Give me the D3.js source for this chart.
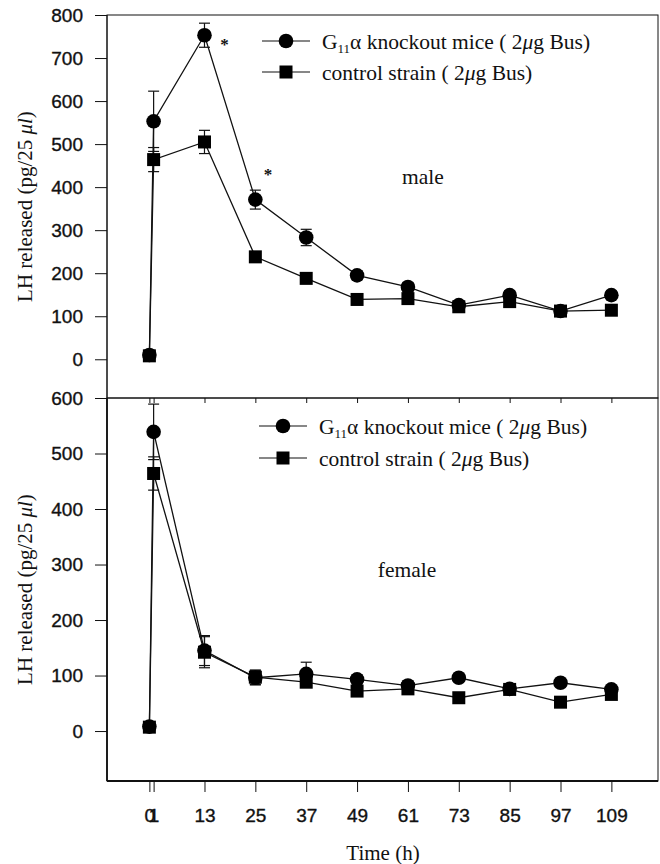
<!DOCTYPE html>
<html>
<head>
<meta charset="utf-8">
<script src="https://cdn.jsdelivr.net/npm/d3@7"></script>
<style>
  html, body { margin: 0; padding: 0; background: #fff; }
  svg { display: block; }
  .tick text { font-family: "Liberation Sans", Arial, sans-serif; font-size: 19px; fill: #111; stroke: #111; stroke-width: 0.35px; }
  text.serif { font-family: "Liberation Serif", "Times New Roman", serif; fill: #111; }
</style>
</head>
<body>
<svg id="chart" width="660" height="864"></svg>
<script>
// Sampling times (h); 0 and 1 are the pre-stimulus and first post-stimulus samples
const times = [0, 1, 13, 25, 37, 49, 61, 73, 85, 97, 109];
const xTickLabels = ["0", "1", "13", "25", "37", "49", "61", "73", "85", "97", "109"];

// Male: LH released (pg/25 µl), mean and SEM
const maleKO     = [10, 553, 753, 371, 283, 195, 168, 126, 149, 112, 149];
const maleKOErr  = [4, 70, 28, 22, 19, 10, 10, 6, 10, 6, 8];
const maleCtl    = [8, 464, 505, 238, 188, 139, 141, 122, 134, 112, 114];
const maleCtlErr = [4, 28, 27, 10, 8, 8, 8, 6, 12, 6, 6];

// Female: LH released (pg/25 µl), mean and SEM
const femaleKO     = [8, 539, 145, 96, 103, 93, 82, 96, 76, 87, 75];
const femaleKOErr  = [4, 50, 27, 13, 21, 8, 8, 6, 8, 6, 6];
const femaleCtl    = [7, 464, 142, 97, 88, 72, 76, 60, 75, 52, 66];
const femaleCtlErr = [4, 30, 28, 13, 8, 6, 8, 6, 8, 6, 6];

// Significance marks (male panel), placed in data space
const maleStars = [{t: 17.7, v: 737}, {t: 28, v: 435}];

const maleYTicks = [0, 100, 200, 300, 400, 500, 600, 700, 800];
const femaleYTicks = [0, 100, 200, 300, 400, 500, 600];

const SERIF = "'Liberation Serif', 'Times New Roman', Times, serif";

const svg = d3.select("#chart");
const X0 = 107, X1 = 658;
const x = d3.scaleLinear().domain([-10, 120]).range([X0, X1]);

const panels = [
  { top: 15, bottom: 398, domain: [-90, 800], ticks: maleYTicks,
    ko: maleKO, koErr: maleKOErr, ctl: maleCtl, ctlErr: maleCtlErr,
    label: "male", labelPos: [423, 184], legendY: [41, 72], legendX: 286,
    stars: maleStars, frameW: 1, showXLabels: false },
  { top: 398, bottom: 781, domain: [-90, 600], ticks: femaleYTicks,
    ko: femaleKO, koErr: femaleKOErr, ctl: femaleCtl, ctlErr: femaleCtlErr,
    label: "female", labelPos: [407, 577], legendY: [426, 458], legendX: 283,
    stars: [], frameW: 1.8, showXLabels: true }
];

function seriesData(vals, errs) {
  return times.map((t, i) => ({ t, v: vals[i], e: errs[i] }));
}

function serifText(sel) {
  return sel.append("text").attr("class", "serif")
    .attr("font-family", SERIF).style("font-family", SERIF).attr("fill", "#111");
}

panels.forEach(p => {
  const y = d3.scaleLinear().domain(p.domain).range([p.bottom, p.top]);
  const g = svg.append("g");

  // frame
  g.append("rect")
    .attr("x", X0).attr("y", p.top)
    .attr("width", X1 - X0).attr("height", p.bottom - p.top)
    .attr("fill", "none").attr("stroke", "#111").attr("stroke-width", 1);
  g.append("line").attr("x1", X0).attr("x2", X0).attr("y1", p.top).attr("y2", p.bottom)
    .attr("stroke", "#111").attr("stroke-width", p.frameW);
  if (p.showXLabels) {
    g.append("line").attr("x1", X0).attr("x2", X1).attr("y1", p.bottom).attr("y2", p.bottom)
      .attr("stroke", "#111").attr("stroke-width", p.frameW);
  }

  // y axis
  const yAxis = g.append("g").attr("transform", `translate(${X0},0)`)
    .call(d3.axisLeft(y).tickValues(p.ticks).tickSize(12).tickPadding(12).tickSizeOuter(0));
  yAxis.select(".domain").remove();
  yAxis.selectAll(".tick line").attr("stroke", "#111");

  // x axis
  const xAxis = g.append("g").attr("transform", `translate(0,${p.bottom})`)
    .call(d3.axisBottom(x).tickValues(times)
      .tickFormat((d, i) => p.showXLabels ? xTickLabels[i] : "")
      .tickSize(p.showXLabels ? 11 : 5).tickPadding(17).tickSizeOuter(0));
  xAxis.select(".domain").remove();
  xAxis.selectAll(".tick line").attr("stroke", "#111");

  const line = d3.line().x(d => x(d.t)).y(d => y(d.v));
  const series = [
    { data: seriesData(p.ko, p.koErr), shape: "circle" },
    { data: seriesData(p.ctl, p.ctlErr), shape: "square" }
  ];

  series.forEach(s => {
    g.append("path").datum(s.data).attr("d", line)
      .attr("fill", "none").attr("stroke", "#111").attr("stroke-width", 1.3);
  });

  series.forEach(s => {
    const eb = g.append("g").attr("stroke", "#111").attr("stroke-width", 1.2);
    s.data.forEach(d => {
      const x0 = x(d.t);
      eb.append("line").attr("x1", x0).attr("x2", x0)
        .attr("y1", y(d.v - d.e)).attr("y2", y(d.v + d.e));
      [d.v - d.e, d.v + d.e].forEach(v => {
        eb.append("line").attr("x1", x0 - 5.5).attr("x2", x0 + 5.5)
          .attr("y1", y(v)).attr("y2", y(v));
      });
    });
  });

  series.forEach(s => {
    if (s.shape === "circle") {
      g.selectAll(null).data(s.data).enter().append("circle")
        .attr("cx", d => x(d.t)).attr("cy", d => y(d.v)).attr("r", 7.3)
        .attr("fill", "#000");
    } else {
      g.selectAll(null).data(s.data).enter().append("rect")
        .attr("x", d => x(d.t) - 6.5).attr("y", d => y(d.v) - 6.5)
        .attr("width", 13).attr("height", 13).attr("fill", "#000");
    }
  });

  // significance marks
  p.stars.forEach(d => {
    serifText(g)
      .attr("x", x(d.t)).attr("y", y(d.v) + 8)
      .attr("text-anchor", "middle").attr("font-size", 17).attr("font-weight", "bold")
      .text("*");
  });

  // legend
  const lx = p.legendX;
  const legendItems = [
    { shape: "circle", y: p.legendY[0], kind: "ko" },
    { shape: "square", y: p.legendY[1], kind: "ctl" }
  ];
  legendItems.forEach(it => {
    g.append("line").attr("x1", lx - 24).attr("x2", lx + 24)
      .attr("y1", it.y).attr("y2", it.y).attr("stroke", "#111").attr("stroke-width", 1.2);
    if (it.shape === "circle") {
      g.append("circle").attr("cx", lx).attr("cy", it.y).attr("r", 7.3).attr("fill", "#000");
    } else {
      g.append("rect").attr("x", lx - 6.5).attr("y", it.y - 6.5)
        .attr("width", 13).attr("height", 13).attr("fill", "#000");
    }
    const t = serifText(g)
      .attr("x", lx + 36).attr("y", it.y + 8).attr("font-size", 21.5);
    if (it.kind === "ko") {
      t.append("tspan").text("G");
      t.append("tspan").attr("font-size", 13).attr("dy", 4).text("11");
      t.append("tspan").attr("dy", -4).text("\u03B1 knockout mice ( 2");
    } else {
      t.append("tspan").text("control strain ( 2");
    }
    t.append("tspan").attr("font-style", "italic").text("\u03BC");
    t.append("tspan").text("g Bus)");
  });

  // panel label
  serifText(g)
    .attr("x", p.labelPos[0]).attr("y", p.labelPos[1])
    .attr("text-anchor", "middle").attr("font-size", 21.5).text(p.label);

  // y axis title
  const cy = (p.top + p.bottom) / 2;
  const yt = serifText(g)
    .attr("transform", `translate(32,${cy}) rotate(-90)`)
    .attr("text-anchor", "middle").attr("font-size", 21);
  yt.append("tspan").text("LH released (pg/25 ");
  yt.append("tspan").attr("font-style", "italic").text("\u03BCl");
  yt.append("tspan").text(")");
});

// x axis title
serifText(svg)
  .attr("x", 383).attr("y", 860)
  .attr("text-anchor", "middle").attr("font-size", 21).text("Time (h)");
</script>
</body>
</html>
